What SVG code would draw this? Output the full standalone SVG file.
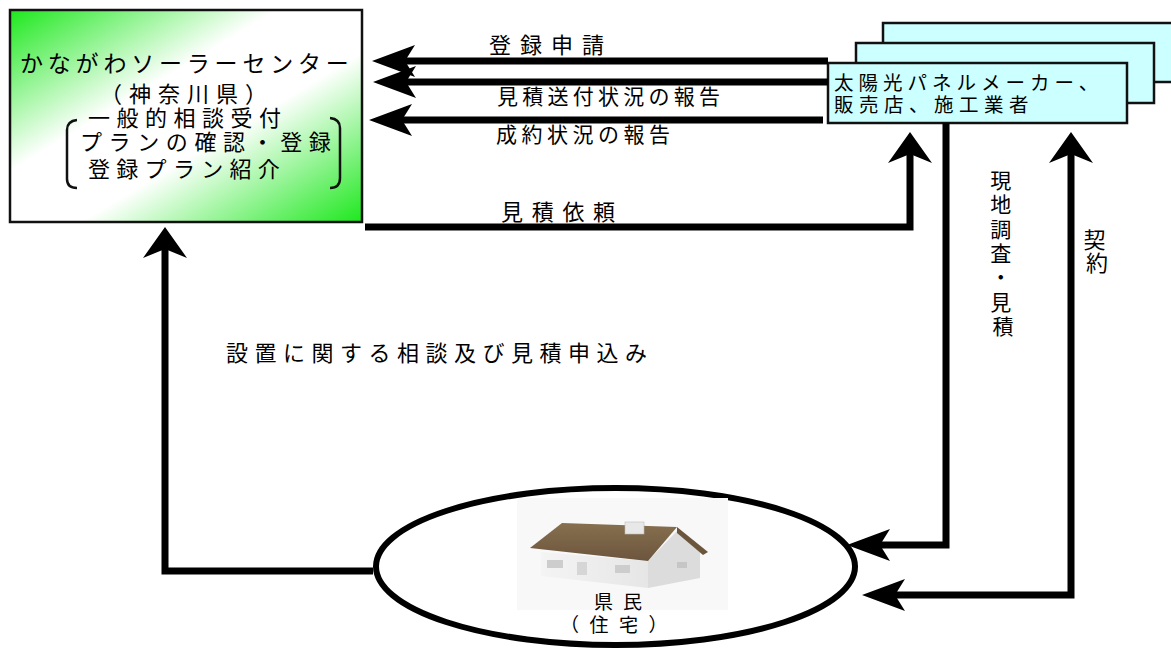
<svg xmlns="http://www.w3.org/2000/svg" width="1171" height="651" viewBox="0 0 1171 651">
<style>
.t{font-family:"Noto Sans CJK JP","Noto Sans",sans-serif;fill:#000}
.conn{fill:none;stroke:#000;stroke-width:7}
.box{stroke:#111;stroke-width:2.5}
.blue{fill:#ccffff}
.brk{fill:none;stroke:#111;stroke-width:2.5}
</style>
<defs>
<linearGradient id="gg" x1="0" y1="0" x2="1" y2="1">
<stop offset="0" stop-color="#1ee81e"/>
<stop offset="0.38" stop-color="#ffffff"/>
<stop offset="0.6" stop-color="#ffffff"/>
<stop offset="1" stop-color="#1ee81e"/>
</linearGradient>
<linearGradient id="roof" x1="0" y1="0" x2="0" y2="1">
<stop offset="0" stop-color="#86704f"/>
<stop offset="1" stop-color="#6c553d"/>
</linearGradient>
<linearGradient id="wall" x1="0" y1="0" x2="1" y2="0">
<stop offset="0" stop-color="#f4f4f4"/>
<stop offset="1" stop-color="#e6e6e6"/>
</linearGradient>
<marker id="ah" markerUnits="userSpaceOnUse" markerWidth="50" markerHeight="40" viewBox="0 -20 50 40" refX="12" refY="0" orient="auto-start-reverse">
<path d="M0,-16 L43,0 L0,16 L10,0 Z" fill="#000"/>
</marker>
<marker id="av" markerUnits="userSpaceOnUse" markerWidth="40" markerHeight="50" viewBox="0 -25 40 50" refX="11" refY="0" orient="auto">
<path d="M0,-22 L31,0 L0,22 L9,0 Z" fill="#000"/>
</marker>
</defs>
<rect width="1171" height="651" fill="#fff"/>

<g id="center">
<rect x="10" y="10" width="352" height="212" fill="url(#gg)" class="box"/>
<text class="t" x="20" y="71.7" font-size="23" letter-spacing="4.8">かながわソーラーセンター</text>
<text class="t" x="100" y="102.4" font-size="22" letter-spacing="7">（神奈川県）</text>
<text class="t" x="88" y="126.4" font-size="22" letter-spacing="6.5">一般的相談受付</text>
<text class="t" x="80" y="150.4" font-size="22" letter-spacing="6.6">プランの確認・登録</text>
<text class="t" x="88" y="177.4" font-size="22" letter-spacing="6.3">登録プラン紹介</text>
<path class="brk" d="M77,120 Q67,121 67,130 L67,179 Q67,188 77,188"/>
<path class="brk" d="M330,118 Q340,119 340,128 L340,178 Q340,188 330,188"/>
</g>

<g id="makers">
<rect x="883" y="23" width="300" height="59" class="box blue"/>
<rect x="856" y="43" width="298" height="60" class="box blue"/>
<rect x="828" y="63" width="299" height="60" class="box blue"/>
<text class="t" x="834" y="90.4" font-size="19.5" letter-spacing="5">太陽光パネルメーカー、</text>
<text class="t" x="834" y="112.4" font-size="19.5" letter-spacing="5.5">販売店、施工業者</text>
</g>

<g id="resident">
<ellipse cx="615.5" cy="566.5" rx="239.5" ry="78.5" fill="#fff" stroke="#000" stroke-width="6"/>
<rect x="517" y="498" width="211" height="112" fill="#f8f8f8"/>
<polygon points="541,552 648,561 648,588 541,576" fill="url(#wall)"/>
<polygon points="648,561 677,531 700,549 700,578 648,588" fill="#dcdcdc"/>
<polygon points="530,548 562,523 677,527 648,561" fill="url(#roof)"/>
<polygon points="677,527 708,552 703,555 677,533" fill="#6c553d"/>
<rect x="625" y="522" width="19" height="12" fill="#e8e8e8" stroke="#bdbdbd" stroke-width="0.6"/>
<rect x="547" y="560" width="16" height="8" fill="#cdcdcd"/>
<rect x="577" y="562" width="10" height="13" fill="#d6d6d6"/>
<rect x="615" y="565" width="15" height="8" fill="#cdcdcd"/>
<rect x="677" y="562" width="10" height="6" fill="#c6c6c6"/>
<text class="t" x="594" y="609.2" font-size="19" letter-spacing="10">県民</text>
<text class="t" x="560" y="632.2" font-size="19" letter-spacing="10.5">（住宅）</text>
</g>

<g id="connectors">
<path class="conn" d="M828,61 H403" marker-end="url(#ah)"/>
<path class="conn" d="M828,82 H404" marker-end="url(#ah)"/>
<path class="conn" d="M823,120 H400" marker-end="url(#ah)"/>
<path class="conn" d="M365,227 H910 V152" marker-end="url(#av)"/>
<path class="conn" d="M946,123 V545 H878" marker-end="url(#ah)"/>
<path class="conn" d="M893,595 H1071 V152" marker-start="url(#ah)" marker-end="url(#av)"/>
<path class="conn" d="M373,571 H165 V247" marker-end="url(#av)"/>
</g>

<g id="labels">
<text class="t" x="489" y="53.4" font-size="22" letter-spacing="9">登録申請</text>
<text class="t" x="497" y="104" font-size="21" letter-spacing="4.25">見積送付状況の報告</text>
<text class="t" x="496" y="142" font-size="21" letter-spacing="4.5">成約状況の報告</text>
<text class="t" x="501" y="220.4" font-size="22" letter-spacing="8.7">見積依頼</text>
<text class="t" x="226" y="361.4" font-size="22" letter-spacing="6.5">設置に関する相談及び見積申込み</text>
<text class="t" font-size="21" text-anchor="middle">
<tspan x="1003" y="188">現</tspan>
<tspan x="1003" y="212.3">地</tspan>
<tspan x="1003" y="236.6">調</tspan>
<tspan x="1003" y="260.9">査</tspan>
<tspan x="1003" y="285.2">・</tspan>
<tspan x="1003" y="309.5">見</tspan>
<tspan x="1003" y="333.8">積</tspan>
</text>
<text class="t" font-size="22" text-anchor="middle">
<tspan x="1097" y="248">契</tspan>
<tspan x="1097" y="271">約</tspan>
</text>
</g>
</svg>
